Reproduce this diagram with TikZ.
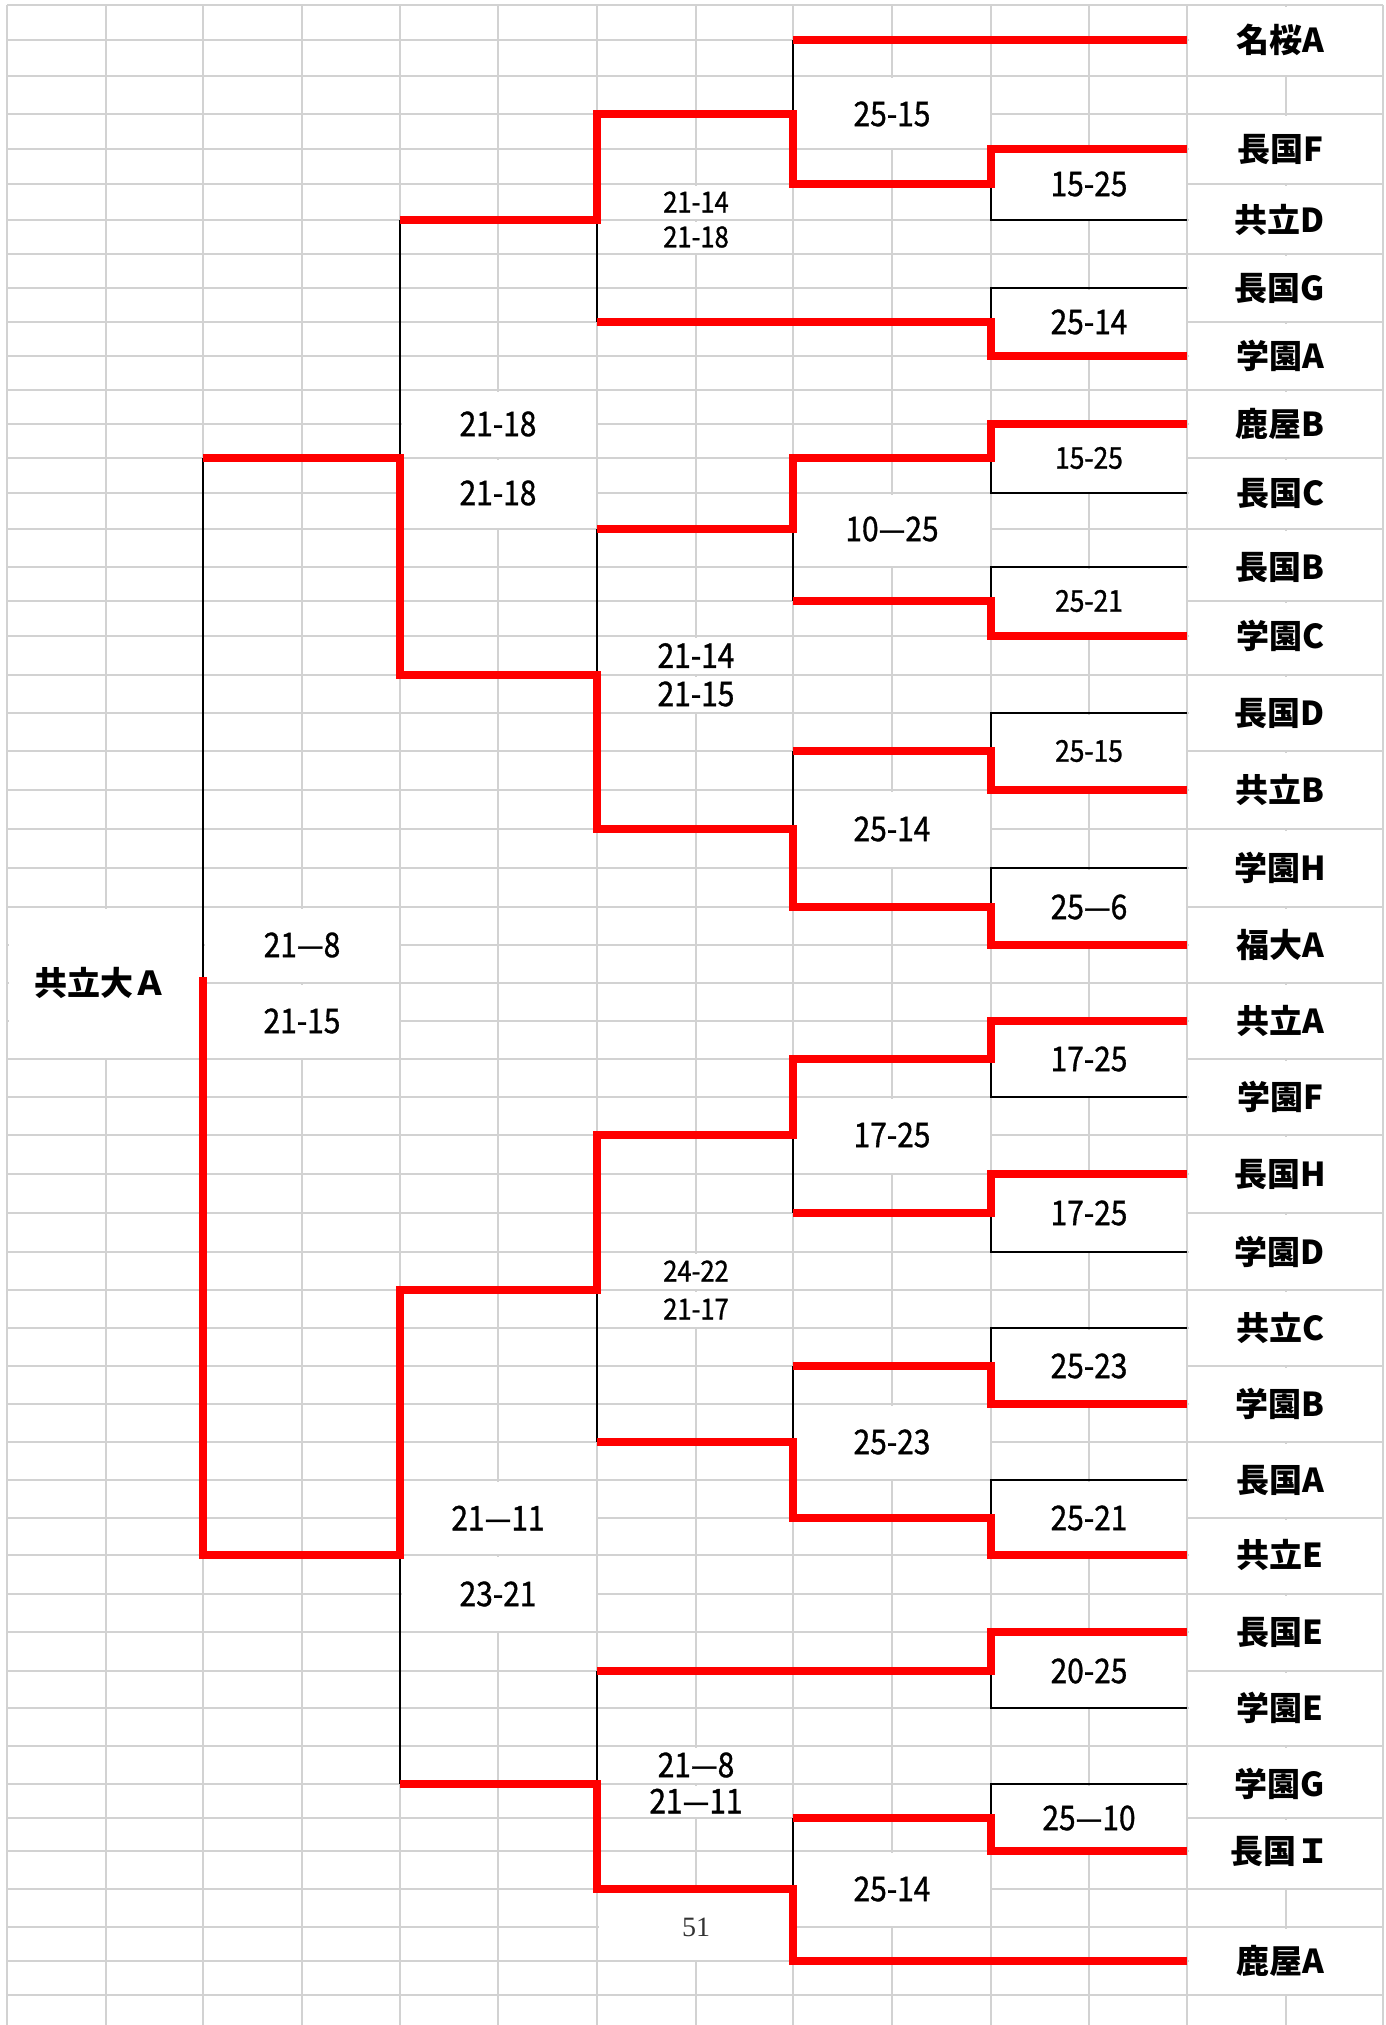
\documentclass[tikz,border=0pt]{standalone}
\usepackage{fontspec}
\setmainfont{Noto Sans CJK JP}
\newfontfamily\teamfont{Noto Sans CJK JP}
\newfontfamily\scorefont{Noto Sans CJK JP}[FakeStretch=0.88, FakeBold=1]
\newfontfamily\pagefont{Liberation Serif}
\usetikzlibrary{calc}
\definecolor{sheetgray}{RGB}{210,210,210}
\definecolor{pathred}{RGB}{255,0,0}

\begin{document}
\begin{tikzpicture}[
    x=0.5pt, y=-0.5pt,
    cell/.style={draw=sheetgray, line width=0.7pt},
    link/.style={draw=black, line width=0.8pt},
    won/.style={draw=pathred, line width=4pt},
    team/.style={font=\teamfont\bfseries\fontsize{16.5}{18}\selectfont, xshift=-3pt},
    score/.style={font=\scorefont\fontsize{17}{19}\selectfont},
    minor/.style={font=\scorefont\fontsize{15}{17}\selectfont},
    mini/.style={font=\scorefont\fontsize{14.5}{16}\selectfont}
]
\useasboundingbox (0,0) rectangle (1386,2025);
\fill[white] (0,0) rectangle (1386,2025);

% sheet columns and rows
\foreach \x [count=\i from 0] in {7,106,203,302,400,498,597,696,793,892,991,1089,1187,1286,1383}
  \coordinate (c\i) at (\x,0);
\foreach \y [count=\i from 0] in {5,40,76,114,149,184,220,254,288,322,356,390,424,458,493,529,567,601,636,675,713,751,790,829,868,907,945,983,1021,1059,1097,1135,1174,1213,1252,1290,1328,1366,1404,1442,1480,1518,1555,1594,1632,1671,1708,1746,1784,1818,1851,1889,1927,1961,1995}
  \coordinate (r\i) at (0,\y);
\coordinate (bot) at (0,2025);
\coordinate (champ) at (203,977);

% grid
\foreach \i in {0,...,54} \draw[cell] (c0|-r\i) -- (c14|-r\i);
\foreach \i in {0,...,14} \draw[cell] (c\i|-r0) -- (c\i|-bot);

% merged cells
\foreach \a [evaluate=\a as \b using int(\a+2)] in {3,5,...,49}
  \fill[white] ($(c12|-r\a)+(1.5,1.5)$) rectangle ($(c14|-r\b)+(-1.5,-1.5)$);
\foreach \a [evaluate=\a as \b using int(\a+2)] in {4,8,...,48}
  \fill[white] ($(c10|-r\a)+(1.5,1.5)$) rectangle ($(c12|-r\b)+(-1.5,-1.5)$);
\foreach \ca/\ra/\cb/\rb in {12/0/14/2, 12/52/14/54,
    8/2/10/4, 8/14/10/16, 8/22/10/24, 8/30/10/32, 8/38/10/40, 8/50/10/52,
    6/5/8/6, 6/6/8/7, 6/18/8/19, 6/19/8/20, 6/34/8/35, 6/35/8/36, 6/47/8/48, 6/48/8/49, 6/51/8/53,
    4/11/6/13, 4/13/6/15, 4/40/6/42, 4/42/6/44,
    2/25/4/27, 2/27/4/29, 0/25/2/29}
  \fill[white] ($(c\ca|-r\ra)+(1.5,1.5)$) rectangle ($(c\cb|-r\rb)+(-1.5,-1.5)$);

% first round boxes
\foreach \a/\m/\b in {4/5/6, 8/9/10, 12/13/14, 16/17/18, 20/21/22, 24/25/26, 28/29/30, 32/33/34, 36/37/38, 40/41/42, 44/45/46, 48/49/50}
  \draw[link] (c12|-r\a) -| (c10|-r\b) -- (c12|-r\b);
\foreach \m in {5,13,17,21,25,29,33,37,41,49}
  \draw[link] (c10|-r\m) -- (c8|-r\m);
\draw[link] (c10|-r9) -- (c6|-r9);
\draw[link] (c10|-r45) -- (c6|-r45);
\draw[link] (c12|-r1) -- (c8|-r1);
\draw[link] (c12|-r53) -- (c8|-r53);

% later rounds
\foreach \a/\m/\b in {1/3/5, 13/15/17, 21/23/25, 29/31/33, 37/39/41, 49/51/53}
  \draw[link] (c8|-r\a) -- (c8|-r\b) (c8|-r\m) -- (c6|-r\m);
\foreach \a/\m/\b in {3/6/9, 15/19/23, 31/35/39, 45/48/51}
  \draw[link] (c6|-r\a) -- (c6|-r\b) (c6|-r\m) -- (c4|-r\m);
\foreach \a/\m/\b in {6/13/19, 35/42/48}
  \draw[link] (c4|-r\a) -- (c4|-r\b) (c4|-r\m) -- (c2|-r\m);
\draw[link] (c2|-r13) -- (c2|-r42);

% winning paths
\draw[won] (c8|-r1) -- (c12|-r1);
\draw[won] (c12|-r4) -| (c10|-r5) -| (c8|-r3) -| (c6|-r6) -- (c4|-r6);
\draw[won] (c12|-r10) -| (c10|-r9) -- (c6|-r9);
\draw[won] (c12|-r12) -| (c10|-r13) -| (c8|-r15) -- (c6|-r15);
\draw[won] (c12|-r18) -| (c10|-r17) -- (c8|-r17);
\draw[won] (c12|-r22) -| (c10|-r21) -- (c8|-r21);
\draw[won] (c12|-r26) -| (c10|-r25) -| (c8|-r23) -| (c6|-r19) -| (c4|-r13) -- (c2|-r13);
\draw[won] (c12|-r28) -| (c10|-r29) -| (c8|-r31) -| (c6|-r35) -| (c4|-r42) -| (champ);
\draw[won] (c12|-r32) -| (c10|-r33) -- (c8|-r33);
\draw[won] (c12|-r38) -| (c10|-r37) -- (c8|-r37);
\draw[won] (c12|-r42) -| (c10|-r41) -| (c8|-r39) -- (c6|-r39);
\draw[won] (c12|-r44) -| (c10|-r45) -- (c6|-r45);
\draw[won] (c12|-r50) -| (c10|-r49) -- (c8|-r49);
\draw[won] (c12|-r53) -| (c8|-r51) -| (c6|-r48) -- (c4|-r48);

% teams
\foreach \r/\name [count=\i] in {1/名桜A, 4/長国F, 6/共立D, 8/長国G, 10/学園A, 12/鹿屋B, 14/長国C, 16/長国B, 18/学園C, 20/長国D, 22/共立B, 24/学園H, 26/福大A, 28/共立A, 30/学園F, 32/長国H, 34/学園D, 36/共立C, 38/学園B, 40/長国A, 42/共立E, 44/長国E, 46/学園E, 48/学園G, 50/長国Ｉ, 53/鹿屋A}
  \node[team] (team\i) at (c13|-r\r) {\name};
\node[team, xshift=0pt] (winner) at (c1|-r27) {共立大Ａ};

% scores
\foreach \m/\s [count=\i] in {5/15-25, 9/25-14, 25/25—6, 29/17-25, 33/17-25, 37/25-23, 41/25-21, 45/20-25, 49/25—10}
  \node[score] (one\i) at (c11|-r\m) {\s};
\foreach \m/\s [count=\i] in {13/15-25, 17/25-21, 21/25-15}
  \node[minor] (onesm\i) at (c11|-r\m) {\s};
\foreach \m/\s [count=\i] in {3/25-15, 15/10—25, 23/25-14, 31/17-25, 39/25-23, 51/25-14}
  \node[score] (two\i) at (c9|-r\m) {\s};
\foreach \a/\b/\s [count=\i] in {5/6/21-14, 6/7/21-18, 34/35/24-22, 35/36/21-17}
  \node[mini] (three\i) at ($(c7|-r\a)!.5!(c7|-r\b)$) {\s};
\foreach \a/\b/\s [count=\i] in {18/19/21-14, 19/20/21-15, 47/48/21—8, 48/49/21—11}
  \node[score] (threebig\i) at ($(c7|-r\a)!.5!(c7|-r\b)$) {\s};
\foreach \r/\s [count=\i] in {12/21-18, 14/21-18, 41/21—11, 43/23-21}
  \node[score] (four\i) at (c5|-r\r) {\s};
\node[score] (final1) at (c3|-r26) {21—8};
\node[score] (final2) at (c3|-r28) {21-15};

% page number
\node[font=\pagefont\fontsize{14}{16}\selectfont, text=black!80] (page) at (c7|-r52) {51};

\end{tikzpicture}
\end{document}
